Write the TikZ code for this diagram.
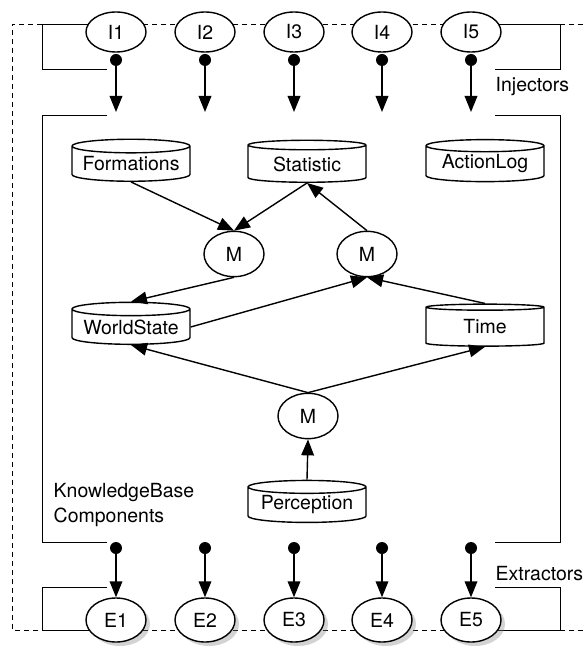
\documentclass[tikz,border=0pt]{standalone}
\usepackage{fontspec}
\setmainfont{TeX Gyre Heros}
\usetikzlibrary{shapes.geometric,arrows.meta,shadows,backgrounds}

\begin{document}
\begin{tikzpicture}[x=0.75pt, y=-0.75pt, line width=1.05pt,
  font=\fontsize{14.6}{18}\selectfont,
  port/.style={ellipse, draw, fill=white, minimum width=45pt,
    minimum height=30pt, inner sep=0pt},
  extport/.style={port, minimum height=33pt,
    drop shadow={shadow xshift=3pt, shadow yshift=-3pt, opacity=0.35}},
  merge/.style={ellipse, draw, fill=white, minimum width=45pt,
    minimum height=34pt, inner sep=0pt},
  store/.style={cylinder, shape border rotate=90, draw, fill=white,
    aspect=0.14, minimum width=88.5pt, minimum height=31.5pt, inner sep=0pt},
  dot/.style={circle, fill, inner sep=0pt, minimum size=9pt},
  arr/.style={-{Triangle[length=12pt, width=9.5pt]}},
  frame/.style={dash pattern=on 3.75pt off 3pt},
  lbl/.style={anchor=base west, inner sep=0pt},
]
  \useasboundingbox (0,0) rectangle (584,648);

  % injectors and extractors
  \node[port] (i1) at (116,32) {I1};
  \node[port] (i2) at (205,32) {I2};
  \node[port] (i3) at (294,32) {I3};
  \node[port] (i4) at (382,32) {I4};
  \node[port] (i5) at (471,32) {I5};
  \node[extport] (e1) at (116,620) {E1};
  \node[extport] (e2) at (205,620) {E2};
  \node[extport] (e3) at (294,620) {E3};
  \node[extport] (e4) at (382,620) {E4};
  \node[extport] (e5) at (471,620) {E5};

  \node[dot] (di1) at (116,60) {};
  \node[dot] (di2) at (205,60) {};
  \node[dot] (di3) at (294,60) {};
  \node[dot] (di4) at (382,60) {};
  \node[dot] (di5) at (471,60) {};
  \coordinate (ti1) at (116,112);
  \coordinate (ti2) at (205,112);
  \coordinate (ti3) at (294,112);
  \coordinate (ti4) at (382,112);
  \coordinate (ti5) at (471,112);
  \node[dot] (de1) at (116,548) {};
  \node[dot] (de2) at (205,548) {};
  \node[dot] (de3) at (294,548) {};
  \node[dot] (de4) at (382,548) {};
  \node[dot] (de5) at (471,548) {};

  \draw[arr] (di1.center) -- (ti1);
  \draw[arr] (di2.center) -- (ti2);
  \draw[arr] (di3.center) -- (ti3);
  \draw[arr] (di4.center) -- (ti4);
  \draw[arr] (di5.center) -- (ti5);
  \draw[arr] (de1.center) -- (e1);
  \draw[arr] (de2.center) -- (e2);
  \draw[arr] (de3.center) -- (e3);
  \draw[arr] (de4.center) -- (e4);
  \draw[arr] (de5.center) -- (e5);

  % knowledge base components
  \node[store] (form) at (131,164) {Formations};
  \node[store] (stat) at (307,164) {Statistic};
  \node[store] (alog) at (485,164) {ActionLog};
  \node[store] (world) at (131,327) {WorldState};
  \node[store] (time) at (485,327) {Time};
  \node[store] (perc) at (307,505) {Perception};
  \node[merge] (m1) at (234,254) {M};
  \node[merge] (m2) at (367,254) {M};
  \node[merge] (m3) at (308,416) {M};

  \draw[arr] (form.south) -- (m1.north);
  \draw[arr] (stat.south) -- (m1.north);
  \draw[arr] (m2.north) -- (stat.south);
  \draw[arr] (m1.south) -- (world.north);
  \draw[arr] (world.east) -- (m2.south);
  \draw[arr] (time.north) -- (m2.south);
  \draw[arr] (m3.north) -- (world.south);
  \draw[arr] (m3.north) -- (time.south);
  \draw[arr] (perc.north) -- (m3.south);

  \node[lbl] (inj) at (495,92) {Injectors};
  \node[lbl] (ext) at (495,580) {Extractors};
  \node[lbl] (kb) at (53,497) {KnowledgeBase};
  \node[lbl] (kbc) at (53,522) {Components};

  % brackets and frame
  \coordinate (topL) at (42,24);
  \coordinate (topR) at (560,24);
  \coordinate (botL) at (42,630);
  \coordinate (botR) at (560,630);
  \begin{scope}[on background layer]
    \draw (107,69) -| (topL) -- (topL -| i1);
    \draw (495,69) -| (topR) -- (topR -| i5);
    \draw (107,587) -| (botL) -- (botL -| e1);
    \draw (495,587) -| (botR) -- (botR -| e5);
    \draw (107,115) -- (42,115) -- (42,542) -- (107,542);
    \draw (495,115) -- (560,115) -- (560,542) -- (495,542);
    \draw[frame] (topL -| i1) -- (topL -| i5);
    \draw[frame] (botL -| e1) -- (botL -| e5);
    \draw[frame] (topL) -- (12,24) -- (12,630) -- (botL);
    \draw[frame] (topR) -- (584,24);
    \draw[frame] (botR) -- (584,630);
  \end{scope}
\end{tikzpicture}
\end{document}
